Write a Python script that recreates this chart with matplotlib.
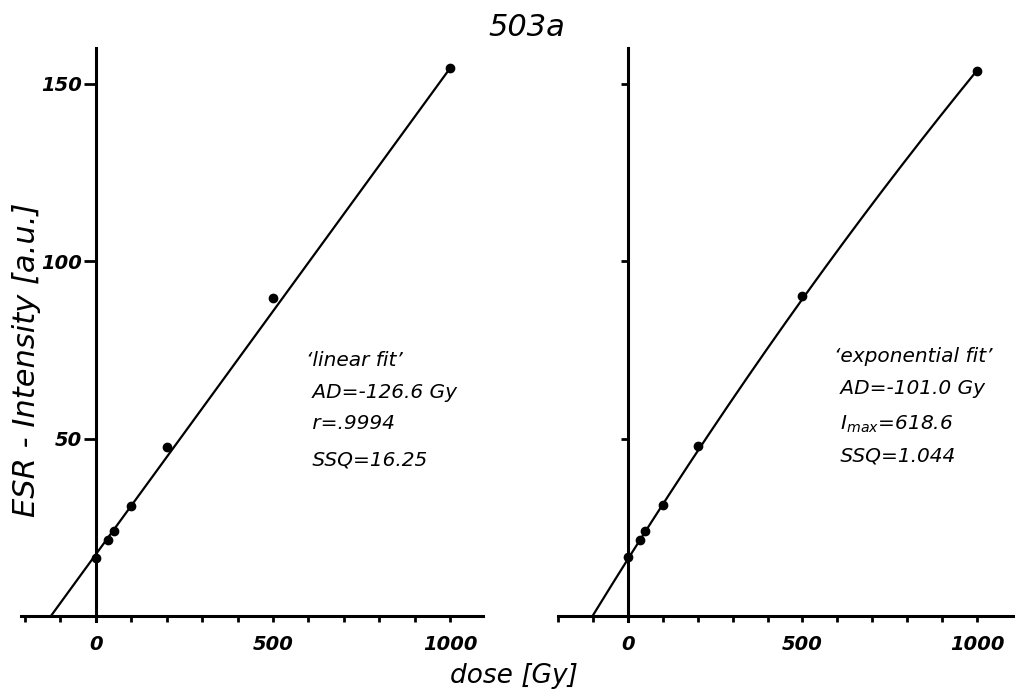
#!/usr/bin/env python
# ESR dose response of sample 503a: linear fit (left) and exponential fit (right)

import numpy
import matplotlib
matplotlib.use('Agg')
import matplotlib.pyplot as plt

matplotlib.rcParams['font.family'] = ['DejaVu Sans']
matplotlib.rcParams['mathtext.fontset'] = 'dejavusans'

# measured points (dose in Gy, ESR intensity in a.u.)
dose_lin = [0, 35, 50, 100, 200, 500, 1000]
esr_lin = [16.3, 21.4, 23.9, 31.0, 47.5, 89.7, 154.4]

dose_exp = [0, 35, 50, 100, 200, 500, 1000]
esr_exp = [16.7, 21.5, 24.0, 31.4, 47.8, 90.3, 153.7]

# fit parameters as printed on the figure (D0)
AD_lin = -126.6
slope_lin = 0.137
AD_exp = -101.0
Imax_exp = 618.6
D0_exp = 3854.0

text_lin = [u"\u2018linear fit\u2019", " AD=-126.6 Gy", " r=.9994", " SSQ=16.25"]
text_exp = [u"\u2018exponential fit\u2019", " AD=-101.0 Gy", r" $I_{max}$=618.6", " SSQ=1.044"]


def StyleAxes(ax, xlim, ylim, ylabels, ytick_len):
	ax.set_xlim(xlim)
	ax.set_ylim(ylim)
	for s in ['top', 'right']:
		ax.spines[s].set_visible(False)
	ax.spines['left'].set_position(('data', 0))
	ax.spines['bottom'].set_position(('data', 0))
	ax.spines['left'].set_linewidth(2.2)
	ax.spines['bottom'].set_linewidth(2.2)
	ax.set_xticks([0, 500, 1000])
	ax.set_xticks(numpy.arange(-200, 1001, 100), minor=True)
	ax.set_xticklabels(['0', '500', '1000'], fontsize=14, fontstyle='italic', fontweight='bold')
	ax.tick_params(axis='x', which='both', direction='out', length=4, width=2, pad=10)
	ax.set_yticks([50, 100, 150])
	if ylabels:
		ax.set_yticklabels(['50', '100', '150'], fontsize=14, fontstyle='italic', fontweight='bold')
	else:
		ax.set_yticklabels([])
	ax.tick_params(axis='y', direction='out', length=ytick_len, width=2, pad=1)
	ax.patch.set_alpha(0)


def main():
	fig = plt.figure(figsize=(10.19, 6.93), dpi=100)

	ax1 = fig.add_axes([0.021, 0.1035, 0.453, 0.827])
	ax2 = fig.add_axes([0.5476, 0.1035, 0.4465, 0.827])

	# left: linear fit
	xl = numpy.array([AD_lin, dose_lin[-1]])
	ax1.plot(xl, slope_lin * (xl - AD_lin), color='black', lw=1.6)
	ax1.plot(dose_lin, esr_lin, 'o', color='black', markersize=6)
	StyleAxes(ax1, (-210, 1093), (-1.5, 160), True, 9)
	for i, t in enumerate(text_lin):
		ax1.text(594, [72, 63, 54.3, 43.9][i], t, fontsize=14.5, fontstyle='italic', va='center')

	# right: exponential fit
	xe = numpy.linspace(AD_exp, dose_exp[-1], 200)
	ax2.plot(xe, Imax_exp * (1 - numpy.exp(-(xe - AD_exp) / D0_exp)), color='black', lw=1.6)
	ax2.plot(dose_exp, esr_exp, 'o', color='black', markersize=6)
	StyleAxes(ax2, (-197, 1103), (-1.5, 160), False, 5)
	for i, t in enumerate(text_exp):
		ax2.text(589, [73, 64, 54, 45][i], t, fontsize=14.5, fontstyle='italic', va='center')

	fig.text(0.517, 1 - 28.0 / 693, '503a', fontsize=22, fontstyle='italic', ha='center', va='center')
	fig.text(27.0 / 1019, 1 - 360.0 / 693, 'ESR - Intensity [a.u.]', fontsize=22, fontstyle='italic',
			 rotation=90, ha='center', va='center')
	fig.text(514.0 / 1019, 1 - 676.0 / 693, 'dose [Gy]', fontsize=19, fontstyle='italic', ha='center', va='center')

	plt.savefig('out.png', dpi=100)


if __name__ == '__main__':
	main()
